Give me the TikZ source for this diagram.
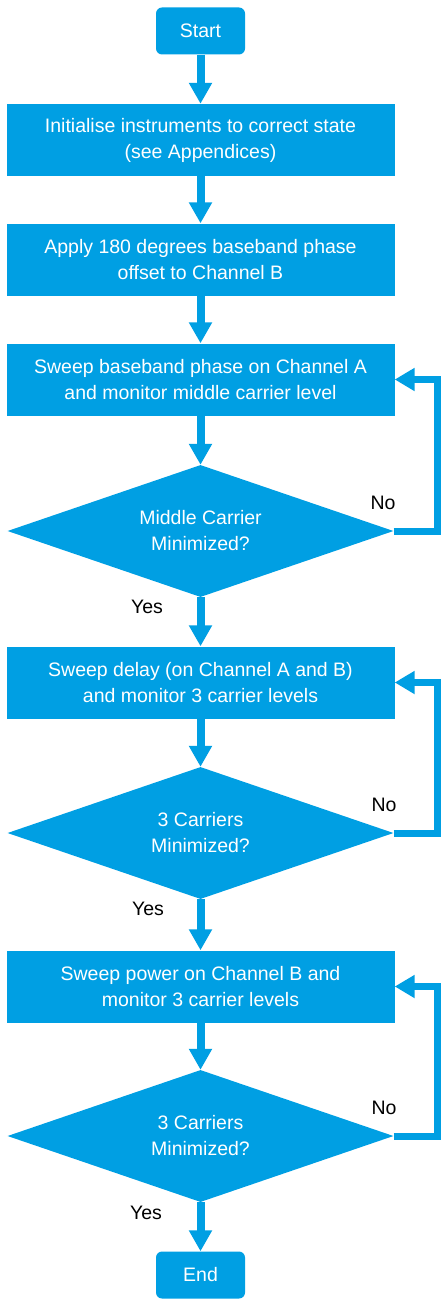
\documentclass[tikz,border=0pt]{standalone}
\usepackage{fontspec}
\setmainfont{Liberation Sans}
\usetikzlibrary{arrows.meta,shapes.geometric}
\definecolor{flowblue}{RGB}{0,159,227}
\tikzset{
  stepbox/.style={fill=flowblue, text=white, align=center, inner sep=0pt,
    minimum width=388pt, minimum height=72pt},
  termbox/.style={fill=flowblue, text=white, rounded corners=6pt, inner sep=0pt,
    minimum width=89pt, minimum height=47pt},
  decide/.style={diamond, aspect=2.9, fill=flowblue, text=white, align=center, inner sep=0pt,
    minimum width=386pt, minimum height=132pt},
  lbl/.style={text=black, inner sep=0pt},
  flow/.style={draw=flowblue, line width=8pt, -{Triangle[width=22pt,length=21pt]}},
  back/.style={draw=flowblue, line width=7pt, line join=miter, -{Triangle[width=22pt,length=20pt]}}
}
\begin{document}
\begin{tikzpicture}[x=1pt, y=-1pt, font=\fontsize{19.5}{26}\selectfont]
  \useasboundingbox (0,0) rectangle (441,1300);
  \node[termbox] (start) at (200.5,31) {Start};
  \node[stepbox] (init) at (200.5,140) {Initialise instruments to correct state\\(see Appendices)};
  \node[stepbox] (phase) at (200.5,259.5) {Apply 180 degrees baseband phase\\offset to Channel B};
  \node[stepbox] (sweepA) at (200.5,379.5) {Sweep baseband phase on Channel A\\and monitor middle carrier level};
  \node[decide] (minA) at (200.5,531) {Middle Carrier\\Minimized?};
  \node[stepbox] (delay) at (200.5,682.5) {Sweep delay (on Channel A and B)\\and monitor 3 carrier levels};
  \node[decide] (minB) at (200.5,833) {3 Carriers\\Minimized?};
  \node[stepbox] (power) at (200.5,986.5) {Sweep power on Channel B and\\monitor 3 carrier levels};
  \node[decide] (minC) at (200.5,1136) {3 Carriers\\Minimized?};
  \node[termbox] (end) at (200.5,1275) {End};
  \foreach \a/\b in {start/init, init/phase, phase/sweepA, sweepA/minA, minA/delay,
    delay/minB, minB/power, power/minC, minC/end}
    \draw[flow] (\a) -- (\b);
  % No: back to the sweep above
  \foreach \d/\b in {minA/sweepA, minB/delay, minC/power}
    \draw[back] (\d.east) -- ++(44,0) |- (\b.east);
  \node[lbl] (noA) at (383,503) {No};
  \node[lbl] (noB) at (384,805) {No};
  \node[lbl] (noC) at (384,1108) {No};
  \node[lbl] (yesA) at (147,607) {Yes};
  \node[lbl] (yesB) at (148,909) {Yes};
  \node[lbl] (yesC) at (146,1213) {Yes};
\end{tikzpicture}
\end{document}
